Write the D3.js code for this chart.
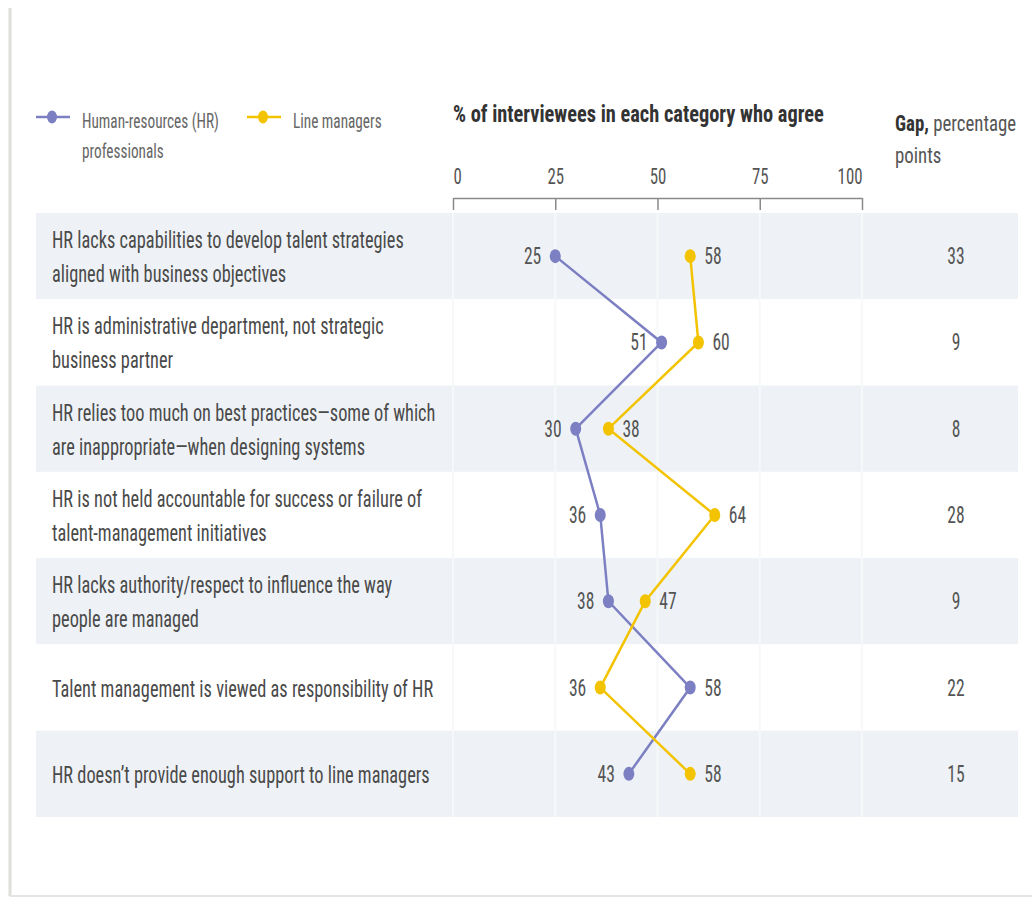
<!DOCTYPE html>
<html>
<head>
<meta charset="utf-8">
<script src="https://cdn.jsdelivr.net/npm/d3@7"></script>
<style>
  html, body { margin: 0; padding: 0; background: #fff; }
  svg { display: block; }
</style>
</head>
<body>
<div id="container"><svg></svg></div>
<script>
// data
let categories = [
    ['HR lacks capabilities to develop talent strategies', 'aligned with business objectives'],
    ['HR is administrative department, not strategic', 'business partner'],
    ['HR relies too much on best practices\u2014some of which', 'are inappropriate\u2014when designing systems'],
    ['HR is not held accountable for success or failure of', 'talent-management initiatives'],
    ['HR lacks authority/respect to influence the way', 'people are managed'],
    ['Talent management is viewed as responsibility of HR'],
    ['HR doesn\u2019t provide enough support to line managers']
];
let hr_values = [25, 51, 30, 36, 38, 58, 43];
let line_values = [58, 60, 38, 64, 47, 36, 58];
let gap_values = [33, 9, 8, 28, 9, 22, 15];
let x_ticks = [0, 25, 50, 75, 100];

let width = 1032;
let height = 898;
let purple = '#7c7fc2';
let yellow = '#f3c300';
let band_color = '#eef2f6';
let fontFamily = "'Liberation Sans Narrow', 'Arial Narrow', 'Roboto Condensed', 'DejaVu Sans Condensed', sans-serif";

let svg = d3.select('#container').select('svg')
    .attr('width', width)
    .attr('height', height)
    .style('font-family', fontFamily);

// the source uses a very condensed face, so squeeze text horizontally
let probe = svg.append('text').attr('font-size', 24).text(categories[0][0]);
let sx = 352 / probe.node().getComputedTextLength();
probe.remove();

function put_text(g, x, y, str, size, color, anchor, weight, stretch) {
    return g.append('text')
        .attr('transform', `translate(${x}, ${y}) scale(${sx * (stretch || 1)}, 1)`)
        .attr('font-size', size)
        .attr('fill', color)
        .attr('text-anchor', anchor || 'start')
        .attr('font-weight', weight || 'normal')
        .text(str);
}

let x = d3.scaleLinear().domain([0, 100]).range([453, 862]);
let y = d3.scaleBand().domain(d3.range(categories.length)).range([213, 817]);
let cy = i => y(i) + y.bandwidth() / 2;

// frame
svg.append('line').attr('x1', 10).attr('x2', 10).attr('y1', 8).attr('y2', 896)
    .attr('stroke', '#dedfdb').attr('stroke-width', 3);
svg.append('line').attr('x1', 10).attr('x2', width).attr('y1', 896).attr('y2', 896)
    .attr('stroke', '#e4e4e0').attr('stroke-width', 2);

// row bands
svg.append('g')
    .selectAll('rect')
    .data(categories)
    .enter().append('rect')
    .attr('x', 36)
    .attr('width', 1018 - 36)
    .attr('y', (d, i) => y(i))
    .attr('height', y.bandwidth())
    .attr('fill', (d, i) => i % 2 === 0 ? band_color : '#fff');

// grid
svg.append('g')
    .selectAll('line')
    .data(x_ticks)
    .enter().append('line')
    .attr('x1', d => x(d)).attr('x2', d => x(d))
    .attr('y1', 213).attr('y2', 817)
    .attr('stroke', '#f6f8fa')
    .attr('stroke-width', 2);

// axis
let axis_x = d3.axisTop(x)
    .tickValues(x_ticks)
    .tickSizeInner(-12)
    .tickSizeOuter(0)
    .tickPadding(14)
    .tickFormat(d => d);
let ax = svg.append('g')
    .attr('transform', `translate(0, 198)`)
    .call(axis_x);
ax.select('.domain').attr('stroke', '#8a8a8a').attr('stroke-width', 1.5);
ax.selectAll('.tick line').attr('stroke', '#8a8a8a').attr('stroke-width', 1.5);
ax.selectAll('.tick text')
    .attr('font-family', fontFamily)
    .attr('font-size', 22)
    .attr('fill', '#555')
    .attr('dy', 0)
    .attr('transform', `scale(${sx}, 1)`)
    .attr('text-anchor', (d, i) => i === 0 ? 'start' : (i === x_ticks.length - 1 ? 'end' : 'middle'));

// headers
put_text(svg, 453, 122, '% of interviewees in each category who agree', 23, '#333', 'start', 'bold', 1.16);
let gap_head = put_text(svg, 895, 131, '', 22, '#555', 'start', 'normal', 1.12);
gap_head.append('tspan').attr('font-weight', 'bold').attr('fill', '#333').text('Gap,');
gap_head.append('tspan').text(' percentage');
put_text(svg, 895, 163, 'points', 22, '#555', 'start', 'normal', 1.12);

// legend
let legend = svg.append('g');
[[36, purple, ['Human-resources (HR)', 'professionals']], [247, yellow, ['Line managers']]]
    .forEach(([lx, color, lines]) => {
        legend.append('line').attr('x1', lx).attr('x2', lx + 34).attr('y1', 117).attr('y2', 117)
            .attr('stroke', color).attr('stroke-width', 2.5);
        legend.append('ellipse').attr('cx', lx + 16).attr('cy', 117).attr('rx', 5).attr('ry', 6.5)
            .attr('fill', color);
        lines.forEach((t, k) => put_text(legend, lx + 46, 128 + k * 30, t, 20, '#666'));
    });

// category labels
let labels = svg.append('g');
categories.forEach((lines, i) => {
    let offs = lines.length === 1 ? [9] : [-8, 26];
    lines.forEach((t, k) => put_text(labels, 52, cy(i) + offs[k], t, 24, '#4a4a4a'));
});

// gap values
let gaps = svg.append('g');
gap_values.forEach((v, i) => put_text(gaps, 956, cy(i) + 8, v, 23, '#555', 'middle'));

// lines and points
let series = [
    { values: hr_values, color: purple, other: line_values },
    { values: line_values, color: yellow, other: hr_values }
];
let line_gen = d3.line()
    .x(d => x(d))
    .y((d, i) => cy(i));

series.forEach(s => {
    let g = svg.append('g');
    g.append('path')
        .attr('d', line_gen(s.values))
        .attr('fill', 'none')
        .attr('stroke', s.color)
        .attr('stroke-width', 2.5);
    g.selectAll('ellipse')
        .data(s.values)
        .enter().append('ellipse')
        .attr('cx', d => x(d))
        .attr('cy', (d, i) => cy(i))
        .attr('rx', 5.5)
        .attr('ry', 7)
        .attr('fill', s.color);
    s.values.forEach((v, i) => {
        let left = v < s.other[i];
        put_text(g, x(v) + (left ? -14 : 14), cy(i) + 8, v, 23, '#555', left ? 'end' : 'start');
    });
});
</script>
</body>
</html>
